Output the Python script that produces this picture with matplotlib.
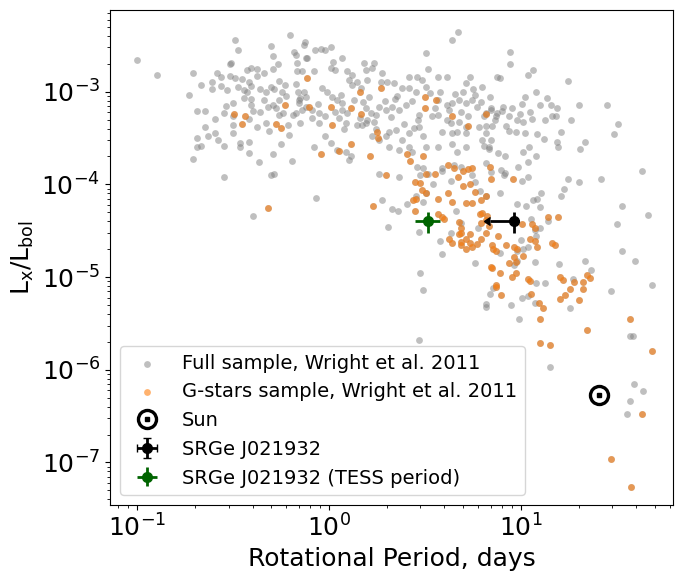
import matplotlib.pyplot as plt

# Full sample (non G-stars), Wright et al. 2011: period [days], Lx/Lbol
full_P = [0.1, 0.127, 0.196, 0.187, 0.216, 0.205, 0.226, 0.226, 0.205, 0.216, 0.205, 0.196, 0.235, 0.255,
          0.255, 0.264, 0.284, 0.284, 0.246, 0.246, 0.273, 0.273, 0.284, 0.294, 0.305, 0.305, 0.31, 0.324,
          0.336, 0.324, 0.336, 0.316, 0.316, 0.316, 0.316, 0.344, 0.344, 0.353, 0.374, 0.393, 0.361, 0.383,
          0.393, 0.374, 0.42, 0.42, 0.393, 0.393, 0.40, 0.383, 0.42, 0.383, 0.383, 0.43, 0.46, 0.44, 0.46,
          0.44, 0.47, 0.50, 0.52, 0.50, 0.51, 0.51, 0.54, 0.55, 0.48, 0.51, 0.55, 0.49, 0.47, 0.56, 0.51,
          0.52, 0.59, 0.57, 0.58, 0.55, 0.61, 0.63, 0.64, 0.66, 0.67, 0.68, 0.68, 0.72, 0.67, 0.69, 0.74,
          0.71, 0.70, 0.65, 0.67, 0.72, 0.71, 0.76, 0.75, 0.50, 0.40,
          0.74, 0.85, 0.91, 0.96, 1.02, 0.77, 1.05, 1.17, 0.84, 1.02, 1.07, 1.52, 1.72, 1.56, 1.68, 1.24,
          1.32, 1.89, 1.87, 2.0, 2.18, 3.2, 3.3, 4.4, 4.7, 3.7, 4.1, 5.4, 5.2, 5.6, 6.3, 7.5, 2.6, 2.87,
          3.05, 3.2, 2.4, 2.6, 2.84, 0.92, 0.98, 1.04, 1.1, 1.17, 1.27, 1.32, 1.4, 1.47, 1.58, 1.82, 1.98,
          2.13, 2.31, 2.52, 1.56, 1.65, 1.76, 1.58, 1.72, 1.17, 1.24, 1.13, 1.23, 0.82, 0.89, 0.82, 0.89,
          0.96, 1.02, 1.1, 1.23, 1.27, 1.3, 1.4, 1.49, 1.56, 1.68, 1.82, 2.05, 2.23, 2.4, 2.6, 2.77, 2.94,
          2.6, 2.7, 3.1, 3.2, 2.87, 3.1, 3.45, 3.7, 4.1, 4.3, 4.75, 5.2, 3.7, 4.1, 4.4, 4.75, 5.2, 3.9, 4.4,
          4.65, 5.2, 3.7, 4.4, 4.65, 5.2, 3.9, 4.5, 4.9, 5.56, 5.9, 6.6, 7.0, 7.4, 6.05, 6.6, 7.0, 6.8,
          1.98, 2.05, 2.31, 1.82, 2.31, 0.84, 0.7, 0.76, 0.76,
          8.8, 8.8, 7.8, 10.9, 11.5, 17.7, 12.0, 13.6, 10.5, 10.1, 12.6, 14.3, 15.4, 20.0, 28.1, 32.2, 30.4,
          7.0, 8.1, 7.5, 8.7, 6.4, 6.6, 7.1, 8.4, 9.6, 10.3, 11.4, 13.3, 14.5, 15.2, 18.2, 8.7, 9.4, 10.5,
          12.1, 16.2, 13.2, 15.4, 21.6, 20.4, 15.6, 6.3, 6.4, 6.8, 7.6, 8.3, 6.6, 7.9, 8.2, 9.7, 10.9, 12.0,
          10.3, 11.0, 17.7, 20.0, 26.0, 42.5,
          0.86, 1.89, 2.13, 2.28, 2.03, 2.55, 2.84, 3.1, 3.2, 2.94, 3.0, 3.28, 3.5, 3.9, 4.3, 5.56, 5.8, 6.1,
          6.6, 7.0, 3.8, 3.9, 4.3, 4.6, 4.9, 6.0, 5.8, 2.98, 3.1, 6.6, 6.9, 7.2, 2.94,
          16.7, 16.2, 12.8, 12.1, 11.6, 12.6, 9.5, 10.6, 7.8, 33.6, 31.5, 45.8, 33.6, 39.2, 21.5, 23.3, 48.4,
          29.4, 15.8, 13.3, 12.0, 18.1, 18.6, 11.8, 10.2, 9.6, 11.3, 11.8, 12.6, 13.8, 10.0, 10.9, 12.0,
          10.1, 10.9, 11.8, 8.9, 6.6, 9.8, 36.9, 38.2, 7.8, 9.5, 9.2, 8.3, 10.9, 10.1,
          14.2, 39.0, 43.5, 36.9, 35.5,
          # extra points in the dense upper cloud
          0.88, 0.95, 1.08, 1.15, 1.35, 1.45, 1.62, 1.75, 1.95, 2.1, 2.25, 2.45, 2.7, 2.95, 3.35, 3.55,
          3.8, 4.2, 4.55, 4.85, 5.0, 5.3, 5.8, 6.2, 6.9, 7.3, 8.0, 9.0, 9.9, 11.2, 0.6, 0.53, 0.62, 0.36,
          0.29, 0.26, 1.2, 1.5, 2.2, 2.9]
full_L = [2.2e-3, 1.53e-3, 1.6e-3, 9.3e-4, 1.19e-3, 6.2e-4, 6.2e-4, 4.2e-4, 3.2e-4, 2.6e-4, 2.5e-4, 1.9e-4,
          3.35e-4, 5.1e-4, 3.6e-4, 3.0e-4, 2.6e-4, 1.2e-4, 1.28e-3, 1.08e-3, 1.45e-3, 1.16e-3, 5.9e-4,
          1.05e-3, 1.49e-3, 2.0e-3, 2.05e-3, 3.6e-3, 2.8e-3, 1.4e-3, 1.13e-3, 7.6e-4, 5.5e-4, 4.4e-4, 3.6e-4,
          2.8e-4, 2.5e-4, 1.38e-3, 1.73e-3, 1.82e-3, 1.05e-3, 1.28e-3, 1.16e-3, 9.8e-4, 1.77e-3, 1.49e-3,
          8.4e-4, 7.1e-4, 6.2e-4, 5.1e-4, 4.2e-4, 2.9e-4, 2.2e-4, 1.75e-4, 1.6e-3, 1.08e-3, 8.2e-4, 6.1e-4,
          9.8e-4, 1.13e-3, 1.08e-3, 3.1e-3, 2.4e-3, 1.77e-3, 2.0e-3, 1.31e-3, 6.9e-4, 7.2e-4, 8.2e-4, 3.8e-4,
          4.6e-4, 2.75e-4, 2.1e-4, 1.3e-4, 1.19e-3, 1.0e-3, 5.9e-4, 5.6e-4, 4.4e-4, 4.1e-3, 1.8e-4, 2.7e-3,
          2.5e-3, 2.05e-3, 1.65e-3, 1.65e-3, 1.22e-3, 1.0e-3, 9.8e-4, 8.6e-4, 7.6e-4, 5.6e-4, 5.9e-4, 6.4e-4,
          4.6e-4, 2.3e-3, 3.4e-3, 1.27e-4, 4.6e-5,
          3.2e-3, 2.8e-3, 2.9e-3, 2.8e-3, 3.0e-3, 2.3e-3, 2.1e-3, 2.3e-3, 1.65e-3, 1.8e-3, 1.7e-3, 2.05e-3,
          2.05e-3, 1.73e-3, 1.82e-3, 1.65e-3, 1.53e-3, 1.57e-3, 1.28e-3, 1.28e-3, 1.25e-3, 2.6e-3, 1.77e-3,
          3.6e-3, 4.4e-3, 1.45e-3, 1.45e-3, 1.45e-3, 1.25e-3, 1.08e-3, 1.13e-3, 1.45e-3, 1.45e-3, 1.45e-3,
          1.35e-3, 1.13e-3, 1.1e-3, 1.1e-3, 1.0e-3, 1.1e-3, 1.0e-3, 8.8e-4, 8.2e-4, 7.6e-4, 1.35e-3, 1.19e-3,
          1.28e-3, 1.1e-3, 1.35e-3, 6.9e-4, 6.4e-4, 6.9e-4, 6.4e-4, 7.2e-4, 6.7e-4, 5.9e-4, 5.6e-4, 5.0e-4,
          4.7e-4, 6.4e-4, 5.9e-4, 5.2e-4, 4.6e-4, 6.4e-4, 5.9e-4, 5.2e-4, 4.6e-4, 3.3e-4, 2.8e-4, 2.37e-4,
          2.25e-4, 1.85e-4, 2.0e-4, 4.4e-4, 4.4e-4, 4.6e-4, 3.3e-4, 3.0e-4, 3.7e-4, 3.9e-4, 3.0e-4, 3.6e-4,
          4.1e-4, 4.2e-4, 2.5e-4, 2.25e-4, 3.3e-4, 2.5e-4, 1.55e-4, 1.5e-4, 5.4e-4, 5.6e-4, 5.0e-4, 4.6e-4,
          4.7e-4, 4.2e-4, 8.2e-4, 7.2e-4, 7.6e-4, 8.2e-4, 7.6e-4, 3.7e-4, 3.6e-4, 3.7e-4, 3.6e-4, 2.5e-4,
          2.7e-4, 2.25e-4, 2.5e-4, 1.5e-4, 1.6e-4, 1.55e-4, 8.2e-4, 6.9e-4, 5.9e-4, 6.4e-4, 5.4e-4, 4.2e-4,
          3.6e-4, 3.0e-4, 2.5e-4, 3.3e-4, 2.5e-4, 2.37e-4, 1.3e-4, 1.2e-4, 2.5e-4, 8.2e-4, 8.8e-4, 6.9e-4,
          2.7e-3, 2.0e-3, 1.4e-3, 1.5e-3, 1.7e-3, 1.3e-3, 1.0e-3, 8.6e-4, 8.8e-4, 7.4e-4, 7.2e-4, 7.1e-4,
          6.7e-4, 7.2e-4, 7.1e-4, 4.5e-4, 3.5e-4, 6.7e-4, 6.9e-4, 5.9e-4, 5.4e-4, 5.4e-4, 4.3e-4, 4.3e-4,
          4.3e-4, 4.9e-4, 4.7e-4, 5.1e-4, 4.9e-4, 5.5e-4, 5.4e-4, 4.9e-4, 3.8e-4, 3.7e-4, 3.6e-4, 3.5e-4,
          3.7e-4, 3.1e-4, 2.9e-4, 2.9e-4, 2.4e-4, 2.5e-4, 3.0e-4, 2.6e-4, 2.4e-4, 2.2e-4, 2.0e-4, 1.7e-4,
          1.44e-4, 1.27e-4, 1.55e-4, 1.75e-4, 2.0e-4, 2.25e-4, 2.5e-4, 1.15e-4, 1.05e-4, 1.15e-4, 1.4e-4,
          7.2e-5, 6.7e-5, 5.4e-5, 5.1e-5, 3.5e-5, 6.2e-5, 7.5e-5, 6.5e-5, 8.0e-5, 3.1e-5, 1.25e-4, 1.3e-4,
          1.0e-4, 1.4e-4, 1.1e-4, 1.27e-4, 1.05e-4, 8.5e-5, 7.5e-5, 1.37e-4, 2.46e-5, 1.76e-5, 3.0e-5, 5.2e-5,
          3.8e-5, 3.4e-5, 1.43e-5, 1.1e-5, 7.3e-6, 5.1e-6, 6.6e-6, 7.7e-6, 2.1e-6,
          9.0e-5, 7.5e-5, 8.0e-5, 7.0e-5, 6.7e-5, 5.7e-5, 6.2e-5, 5.9e-5, 8.0e-5, 5.9e-5, 3.7e-5, 4.7e-5,
          1.9e-5, 1.5e-5, 1.5e-5, 1.2e-5, 8.3e-6, 7.1e-6, 1.4e-5, 8.7e-6, 8.6e-6, 4.6e-6, 9.6e-6, 1.47e-5,
          2.0e-5, 1.9e-5, 4.2e-5, 3.2e-5, 3.4e-5, 4.0e-5, 2.5e-5, 2.1e-5, 2.8e-5, 6.0e-6, 6.2e-6, 5.3e-6,
          5.0e-6, 4.8e-6, 3.5e-6, 2.3e-6, 2.3e-6, 1.8e-5, 1.5e-5, 1.35e-5, 1.33e-4, 1.2e-4, 1.1e-4,
          1.07e-6, 7.0e-7, 5.9e-7, 4.6e-7, 3.3e-7,
          7.4e-4, 5.4e-4, 6.0e-4, 9.2e-4, 8.2e-4, 5.2e-4, 8.8e-4, 4.0e-4, 8.0e-4, 5.3e-4, 9.0e-4, 4.5e-4,
          8.0e-4, 5.6e-4, 9.6e-4, 6.6e-4, 1.0e-3, 6.3e-4, 9.4e-4, 6.0e-4, 1.0e-3, 5.5e-4, 9.2e-4, 7.8e-4,
          8.8e-4, 4.9e-4, 6.2e-4, 6.6e-4, 5.8e-4, 6.0e-4, 9.0e-4, 6.6e-4, 3.4e-4, 8.6e-4, 7.0e-4, 1.6e-3,
          4.0e-4, 7.8e-4, 8.4e-4, 5.0e-4]

# G-stars sample, Wright et al. 2011
g_P = [0.32, 0.366, 0.353, 0.59, 0.53, 0.56, 0.77, 0.79, 1.02, 1.04, 0.91, 1.13, 1.3, 1.45, 1.47, 1.3, 1.63,
       1.78, 1.8, 1.87, 1.98, 2.55, 2.64, 3.1, 3.15, 3.15, 3.6, 4.16, 4.4, 4.5, 4.7, 3.2, 3.57, 5.0, 5.3,
       5.56, 5.3, 6.6, 6.9, 7.0, 9.1, 2.8, 2.98, 3.05, 3.2, 1.7, 2.74, 2.84, 2.8, 3.7, 4.16, 4.4, 5.0, 5.4,
       5.8, 5.2, 5.56, 3.7, 3.9, 4.0, 4.75, 4.9, 4.9, 4.75, 4.2, 4.4, 4.9, 5.4, 5.56, 5.9, 6.2, 6.6, 6.2,
       6.3, 6.6, 4.9, 5.2, 5.4, 5.2, 7.0, 7.4, 6.2, 6.6, 6.1, 6.7, 6.8, 10.1, 11.4, 11.8, 13.9, 15.6, 7.6,
       8.4, 9.2, 9.5, 10.3, 11.1, 11.8, 12.1, 14.6, 15.0, 7.1, 7.4, 7.2, 8.7, 9.4, 9.2, 7.1, 7.8, 9.0, 9.4,
       10.9, 11.1, 16.0, 16.5, 18.1, 18.8, 21.0, 21.0, 22.0, 23.0, 7.4, 7.9, 11.3, 12.4, 13.0, 16.0, 16.9,
       20.0, 12.6, 22.0, 36.9, 12.6, 14.2, 48.4, 42.5, 29.4, 37.3, 0.48]
g_L = [5.8e-4, 5.5e-4, 4.5e-4, 7.2e-4, 4.5e-4, 4.1e-4, 1.4e-3, 6.9e-4, 6.9e-4, 4.4e-4, 2.1e-4, 2.3e-4,
       6.7e-4, 9.8e-4, 5.8e-4, 2.75e-4, 2.0e-4, 3.7e-4, 3.2e-4, 1.1e-3, 1.27e-4, 2.1e-4, 1.8e-4, 2.0e-4,
       8.8e-4, 6.7e-4, 8.2e-4, 1.6e-4, 5.4e-4, 1.5e-4, 1.2e-4, 1.3e-4, 1.3e-4, 1.4e-4, 1.47e-4, 1.5e-4,
       4.3e-4, 5.8e-4, 1.55e-4, 1.15e-4, 1.15e-4, 1.07e-4, 1.04e-4, 8.7e-5, 8.1e-5, 5.9e-5, 6.7e-5, 7.0e-5,
       5.2e-5, 7.0e-5, 8.0e-5, 6.5e-5, 9.6e-5, 1.0e-4, 8.3e-5, 6.3e-5, 6.3e-5, 4.8e-5, 4.5e-5, 4.2e-5,
       3.9e-5, 3.4e-5, 3.0e-5, 2.9e-5, 2.6e-5, 2.35e-5, 2.4e-5, 2.35e-5, 2.1e-5, 2.3e-5, 2.6e-5, 3.0e-5,
       3.8e-5, 4.9e-5, 4.1e-5, 2.2e-5, 2.0e-5, 2.9e-5, 2.6e-5, 1.3e-5, 8.3e-6, 6.7e-5, 7.4e-5, 4.8e-5,
       4.6e-5, 3.6e-5, 3.7e-5, 3.7e-5, 3.4e-5, 4.4e-5, 4.4e-5, 2.8e-5, 2.2e-5, 2.1e-5, 2.0e-5, 1.7e-5,
       2.6e-5, 2.45e-5, 2.1e-5, 2.35e-5, 2.2e-5, 2.2e-5, 1.9e-5, 2.0e-5, 1.43e-5, 1.47e-5, 1.66e-5,
       1.24e-5, 1.1e-5, 1.0e-5, 1.1e-5, 9.6e-6, 9.0e-6, 1.0e-5, 9.4e-6, 7.5e-6, 8.9e-6, 8.9e-6, 7.5e-6,
       1.05e-5, 9.8e-6, 7.8e-6, 6.4e-6, 6.6e-6, 5.3e-6, 4.6e-6, 5.8e-6, 6.4e-6, 5.6e-6, 3.5e-6, 2.7e-6,
       3.55e-6, 1.95e-6, 1.85e-6, 1.6e-6, 3.3e-7, 1.1e-7, 5.5e-8, 5.6e-5]

sun_P, sun_L = 25.4, 5.4e-7
src_P, src_L = 9.2, 4.0e-5
src_Perr, src_Lerr = 2.3, 1.0e-5
tess_P, tess_Perr = 3.3, 0.5

fig = plt.figure(figsize=(6.76, 5.73), dpi=100)
ax = fig.add_axes([110 / 676, 68 / 573, 563 / 676, 495 / 573])

h_full = ax.scatter(full_P + g_P, full_L + g_L, s=24, color='gray', alpha=0.5, lw=0)
h_g = ax.scatter(g_P, g_L, s=24, color='C1', alpha=0.6, lw=0)

ring, = ax.plot(sun_P, sun_L, 'o', ms=13, mfc='none', mec='k', mew=2.4)
dot, = ax.plot(sun_P, sun_L, 'ks', ms=3.5)

h_src = ax.errorbar(src_P, src_L, xerr=src_Perr, yerr=src_Lerr, xuplims=True, fmt='o',
                    color='k', ms=7, lw=2)
h_tess = ax.errorbar(tess_P, src_L, xerr=tess_Perr, yerr=src_Lerr, fmt='o',
                     color='darkgreen', ms=7, lw=2)

ax.set_xscale('log')
ax.set_yscale('log')
ax.set_xlim(0.0724, 62)
ax.set_ylim(3.48e-8, 7.6e-3)
ax.tick_params(labelsize=18)
ax.set_xlabel('Rotational Period, days', fontsize=18)
ax.set_ylabel(r'$\mathrm{L_x/L_{bol}}$', fontsize=18)

ax.legend([h_full, h_g, (ring, dot), h_src, h_tess],
          ['Full sample, Wright et al. 2011', 'G-stars sample, Wright et al. 2011', 'Sun',
           'SRGe J021932', 'SRGe J021932 (TESS period)'],
          loc='lower left', fontsize=14)

plt.savefig('out.png')
